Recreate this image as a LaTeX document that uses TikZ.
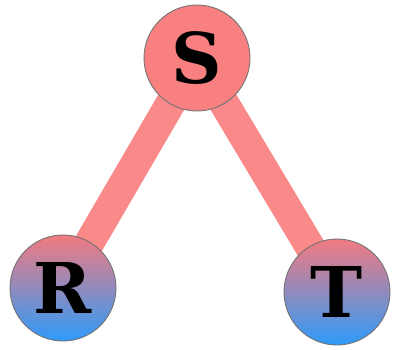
\documentclass[tikz,border=0pt]{standalone}
\usepackage{fontspec}
\newfontfamily\labfont{DejaVu Serif}
\definecolor{salmon}{HTML}{F88080}
\definecolor{edgecol}{HTML}{FA8A8A}
\definecolor{topcol}{HTML}{F27A80}
\definecolor{botcol}{HTML}{2E9BFA}
\tikzset{
  vert/.style={circle, draw=black!55, line width=0.9pt, minimum size=106pt, inner sep=0pt,
    font=\labfont\bfseries\fontsize{70}{70}\selectfont},
  topvert/.style={vert, fill=salmon},
  lowvert/.style={vert, top color=topcol, bottom color=botcol, middle color=topcol!50!botcol, shading angle=0},
  conn/.style={edgecol, line width=30pt}
}
\begin{document}
\begin{tikzpicture}[x=1pt,y=-1pt]
\useasboundingbox (0,0) rectangle (393,350);
\coordinate (cS) at (197,58);
\coordinate (cR) at (63,288);
\coordinate (cT) at (337,292);
\draw[conn] (cS) -- (cR);
\draw[conn] (cS) -- (cT);
\node[topvert] (S) at (cS) {S};
\node[lowvert] (R) at (cR) {R};
\node[lowvert] (T) at (cT) {T};
\end{tikzpicture}
\end{document}
